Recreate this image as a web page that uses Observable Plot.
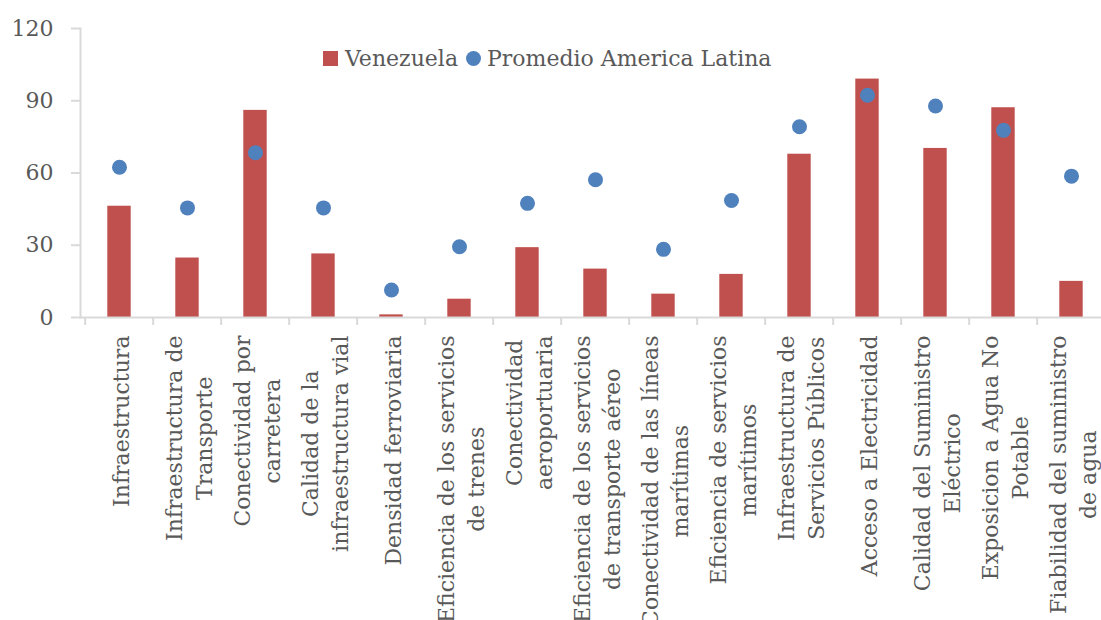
<!DOCTYPE html>
<html>
<head>
<meta charset="utf-8">
<script src="https://cdn.jsdelivr.net/npm/d3@7"></script>
<script src="https://cdn.jsdelivr.net/npm/@observablehq/plot@0.6"></script>
<style>
  html, body { margin: 0; padding: 0; background: #fff; overflow: hidden; }
  #wrap { position: relative; width: 1101px; height: 620px; overflow: hidden; }
  #chart svg { max-width: none !important; }
  #legend { position: absolute; left: 323px; top: 46px; display: flex; align-items: center;
    font-family: 'DejaVu Serif', serif; font-size: 22px; color: #595959; white-space: nowrap; }
  .sq { width: 15px; height: 15px; background: #C0504D; margin-right: 7px; }
  .ci { width: 15px; height: 15px; border-radius: 50%; background: #4F81BD; margin-left: 8px; margin-right: 6px; }
</style>
</head>
<body>
<div id="wrap">
  <div id="chart"></div>
  <div id="legend"><span class="sq"></span><span>Venezuela</span><span class="ci"></span><span>Promedio America Latina</span></div>
</div>
<script>
const categoryLines = [
  ["Infraestructura"],
  ["Infraestructura de", "Transporte"],
  ["Conectividad por", "carretera"],
  ["Calidad de la", "infraestructura vial"],
  ["Densidad ferroviaria"],
  ["Eficiencia de los servicios", "de trenes"],
  ["Conectividad", "aeroportuaria"],
  ["Eficiencia de los servicios", "de transporte aéreo"],
  ["Conectividad de las líneas", "marítimas"],
  ["Eficiencia de servicios", "marítimos"],
  ["Infraestructura de", "Servicios Públicos"],
  ["Acceso a Electricidad"],
  ["Calidad del Suministro", "Eléctrico"],
  ["Exposicion a Agua No", "Potable"],
  ["Fiabilidad del suministro", "de agua"]
];
const venezuela = [46.2, 24.7, 86.0, 26.4, 1.1, 7.6, 29.0, 20.1, 9.7, 17.9, 67.8, 99.0, 70.2, 87.1, 15.0];
const promedio  = [62.4, 45.5, 68.4, 45.5, 11.4, 29.4, 47.4, 57.2, 28.3, 48.6, 79.2, 92.3, 87.8, 77.7, 58.7];
const yTicks = [0, 30, 60, 90, 120];

const categories = categoryLines.map(l => l.join(" "));
const data = categories.map((c, i) => ({cat: c, ven: venezuela[i], prom: promedio[i]}));

const W = 1110, H = 620, ML = 80, MR = 1, MT = 28, MB = 303;
const step = (W - ML - MR) / categories.length;
const barW = 24;
const FONT = "'DejaVu Serif', serif";
const FS = 22;
const textColor = "#595959";
const axisColor = "#D9D9D9";

const ctx = document.createElement("canvas").getContext("2d");
ctx.font = `${FS}px ${FONT}`;

const labelMarks = categories.map((c, i) => {
  const maxW = d3.max(categoryLines[i], s => ctx.measureText(s).width);
  return Plot.text([c], {
    x: d => d,
    text: () => categoryLines[i].join("\n"),
    frameAnchor: "bottom",
    dy: 18 + maxW / 2,
    rotate: -90,
    textAnchor: "middle",
    lineAnchor: "middle",
    lineHeight: 1.36,
    fontSize: FS,
    fontFamily: FONT,
    fill: textColor
  });
});

const chart = Plot.plot({
  width: W, height: H,
  marginLeft: ML, marginRight: MR, marginTop: MT, marginBottom: MB,
  style: {fontFamily: FONT, fontSize: FS + "px", color: textColor, background: "transparent", overflow: "visible", maxWidth: "none"},
  x: {domain: categories, padding: 0, label: null},
  y: {domain: [0, 120], label: null},
  marks: [
    Plot.frame({anchor: "left", stroke: axisColor, strokeWidth: 2}),
    Plot.axisY({ticks: yTicks, tickSize: 9, tickFormat: () => "", stroke: axisColor, strokeWidth: 2, label: null}),
    Plot.axisY({ticks: yTicks, tickSize: 0, tickPadding: 27, fontSize: FS, fill: textColor, label: null}),
    Plot.axisX({ticks: categories, tickSize: 8, tickFormat: () => "", dx: -step / 2, stroke: axisColor, strokeWidth: 2, label: null}),
    Plot.barY(data, {x: "cat", y: "ven", fill: "#C0504D", insetLeft: (step - barW) / 2, insetRight: (step - barW) / 2}),
    Plot.ruleY([0], {stroke: axisColor, strokeWidth: 2}),
    Plot.dot(data, {x: "cat", y: "prom", r: 7.5, fill: "#4F81BD"}),
    ...labelMarks
  ]
});
document.getElementById("chart").appendChild(chart);
</script>
</body>
</html>
